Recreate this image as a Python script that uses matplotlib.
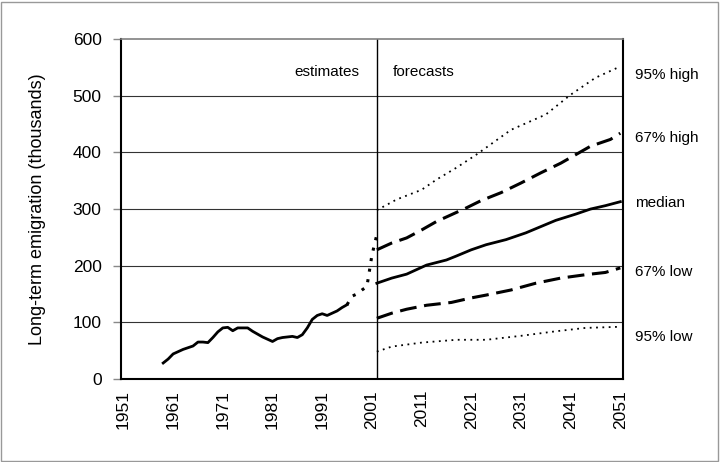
import matplotlib.pyplot as plt
from matplotlib.patches import Rectangle

plt.rcParams['font.family'] = ['Liberation Sans', 'DejaVu Sans']

# estimates (solid part, then dotted recent part)
estYears = [1959, 1960, 1961, 1962, 1963, 1964, 1965, 1966, 1967, 1968, 1969,
            1970, 1971, 1972, 1973, 1974, 1975, 1976, 1977, 1978, 1979, 1980,
            1981, 1982, 1983, 1984, 1985, 1986, 1987, 1988, 1989, 1990, 1991,
            1992, 1993, 1994, 1995, 1996]
estValues = [28, 35, 44, 48, 52, 55, 58, 65, 65, 64, 73,
             83, 90, 91, 85, 90, 90, 90, 84, 79, 74, 70,
             66, 71, 73, 74, 75, 73, 78, 90, 105, 112, 115,
             112, 116, 120, 126, 131]
recentYears = [1996, 1997, 1998, 1999, 2000, 2001, 2002]
recentValues = [131, 146, 150, 157, 163, 218, 255]

# forecasts
medYears = [2002, 2005, 2008, 2010, 2012, 2016, 2018, 2021, 2024, 2028, 2032,
            2035, 2038, 2042, 2045, 2048, 2051]
medValues = [169, 178, 185, 193, 201, 210, 217, 228, 237, 246, 258,
             269, 280, 291, 300, 306, 313]
hi67Years = [2002, 2005, 2008, 2011, 2014, 2017, 2020, 2023, 2027, 2031, 2035,
             2039, 2042, 2045, 2049, 2051]
hi67Values = [228, 240, 249, 263, 278, 290, 302, 315, 329, 346, 364,
              381, 396, 411, 423, 434]
lo67Years = [2002, 2005, 2008, 2012, 2017, 2021, 2024, 2029, 2034, 2039, 2044,
             2048, 2051]
lo67Values = [107, 116, 123, 130, 135, 143, 148, 157, 169, 178, 184, 188, 196]
hi95Years = [2002, 2006, 2011, 2014, 2018, 2022, 2029, 2036, 2041, 2046, 2051]
hi95Values = [298, 317, 334, 352, 373, 396, 440, 467, 502, 532, 552]
lo95Years = [2002, 2005, 2011, 2018, 2024, 2031, 2038, 2044, 2051]
lo95Values = [48, 57, 64, 69, 69, 76, 84, 90, 92]

endLabels = ["95% high", "67% high", "median", "67% low", "95% low"]
endLabelY = [536, 426, 311, 189, 74]

xticks = list(range(1951, 2052, 10))
yticks = [0, 100, 200, 300, 400, 500, 600]

fig = plt.figure(figsize=(7.2, 4.62), dpi=100)
ax = fig.add_axes([0.168, 0.180, 0.697, 0.735])

for v in yticks[1:-1]:
    ax.axhline(v, color='#333333', lw=0.8, zorder=1)

ax.plot(estYears, estValues, color='black', lw=2, zorder=3)
ax.plot(recentYears, recentValues, color='black', lw=2.2,
        linestyle=(0, (1, 2.5)), zorder=3)
ax.plot(medYears, medValues, color='black', lw=2, zorder=3)
ax.plot(hi67Years, hi67Values, color='black', lw=2.2,
        linestyle=(0, (5.5, 2.5)), zorder=3)
ax.plot(lo67Years, lo67Values, color='black', lw=2.2,
        linestyle=(0, (5.5, 2.5)), zorder=3)
ax.plot(hi95Years, hi95Values, color='black', lw=1.3,
        linestyle=(0, (1, 2.5)), zorder=3)
ax.plot(lo95Years, lo95Values, color='black', lw=1.3,
        linestyle=(0, (1, 2.5)), zorder=3)

ax.axvline(2002, color='black', lw=1, zorder=2)

ax.text(1998.5, 543, "estimates", ha='right', va='center', fontsize=11)
ax.text(2005.3, 543, "forecasts", ha='left', va='center', fontsize=11)

for lab, yv in zip(endLabels, endLabelY):
    ax.text(2054, yv, lab, ha='left', va='center', fontsize=11,
            clip_on=False)

ax.set_xlim(1950.5, 2051.5)
ax.set_ylim(0, 600)
ax.set_xticks(xticks)
ax.set_xticklabels([str(x) for x in xticks], rotation=90, fontsize=12.5)
ax.set_yticks(yticks)
ax.set_yticklabels([str(y) for y in yticks], fontsize=12.5)
ax.tick_params(axis='y', length=6, color='#888888', width=1, pad=8)
ax.tick_params(axis='x', length=0, pad=8)
ax.set_ylabel("Long-term emigration (thousands)", fontsize=13, labelpad=19)

for side in ['left', 'right', 'bottom']:
    ax.spines[side].set_linewidth(1.5)
    ax.spines[side].set_color('black')
ax.spines['top'].set_linewidth(1.2)
ax.spines['top'].set_color('#808080')

fig.patches.append(Rectangle((0.002, 0.003), 0.995, 0.993,
                             transform=fig.transFigure, fill=False,
                             edgecolor='#999999', lw=1))

fig.savefig("out.png", dpi=100)
